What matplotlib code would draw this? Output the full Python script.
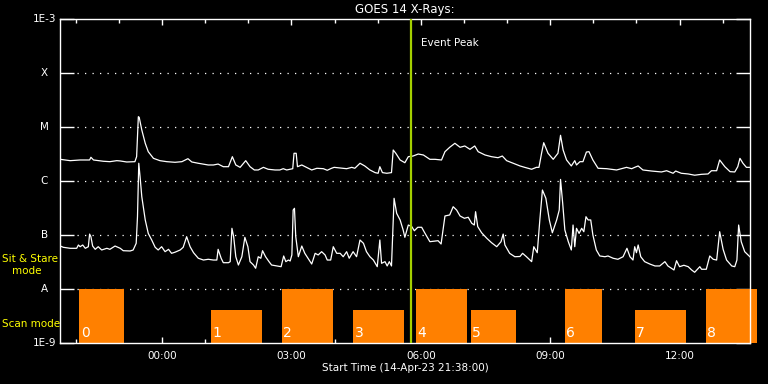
#!/usr/bin/env python3
"""GOES 14 X-ray flux with IRIS observing mode blocks."""

import matplotlib
matplotlib.use("Agg")
import matplotlib.pyplot as plt
from matplotlib.ticker import FixedLocator, NullLocator

# times are hours relative to 00:00 on 15-Apr-23 (start 21:38 the day before)
t_start = -2.3667
t_end = 13.6333
event_peak = 5.77

long_t = [-2.36, -2.13, -1.90, -1.68, -1.65, -1.59, -1.36, -1.21, -1.05, -0.97,
          -0.82, -0.63, -0.59, -0.55, -0.53, -0.47, -0.39, -0.32, -0.20, -0.05,
          0.11, 0.30, 0.46, 0.60, 0.69, 0.84, 1.07, 1.19, 1.30, 1.42,
          1.54, 1.63, 1.71, 1.81, 1.94, 2.04, 2.14, 2.23, 2.35, 2.46,
          2.62, 2.73, 2.81, 2.89, 2.97, 3.03, 3.06, 3.11, 3.14, 3.24,
          3.35, 3.47, 3.59, 3.74, 3.83, 3.93, 3.99, 4.13, 4.28, 4.40,
          4.47, 4.59, 4.70, 4.82, 4.94, 5.01, 5.05, 5.11, 5.21, 5.32,
          5.36, 5.42, 5.52, 5.63, 5.71, 5.82, 5.94, 6.06, 6.21, 6.33,
          6.48, 6.56, 6.67, 6.79, 6.91, 7.02, 7.14, 7.25, 7.33, 7.49,
          7.64, 7.79, 7.89, 7.99, 8.14, 8.30, 8.41, 8.57, 8.68, 8.74,
          8.80, 8.85, 8.95, 9.07, 9.18, 9.24, 9.30, 9.38, 9.49, 9.57,
          9.61, 9.69, 9.76, 9.84, 9.90, 9.99, 10.11, 10.31, 10.54, 10.77,
          10.89, 10.96, 11.04, 11.15, 11.35, 11.58, 11.70, 11.85, 11.91, 12.04,
          12.20, 12.35, 12.51, 12.66, 12.74, 12.86, 12.93, 13.05, 13.17, 13.28,
          13.35, 13.40, 13.47, 13.55, 13.63]
long_flux = [2.52e-6, 2.38e-6, 2.45e-6, 2.45e-6, 2.75e-6, 2.45e-6, 2.32e-6, 2.28e-6, 2.38e-6, 2.35e-6,
             2.25e-6, 2.28e-6, 2.82e-6, 1.55e-5, 1.51e-5, 8.80e-6, 4.99e-6, 3.49e-6, 2.63e-6, 2.38e-6,
             2.28e-6, 2.22e-6, 2.28e-6, 2.59e-6, 2.25e-6, 2.13e-6, 1.98e-6, 1.98e-6, 2.06e-6, 1.84e-6,
             1.84e-6, 2.82e-6, 1.98e-6, 1.79e-6, 2.38e-6, 1.84e-6, 1.60e-6, 1.60e-6, 1.79e-6, 1.65e-6,
             1.60e-6, 1.60e-6, 1.69e-6, 1.60e-6, 1.65e-6, 1.69e-6, 3.26e-6, 3.26e-6, 1.84e-6, 1.98e-6,
             1.79e-6, 1.60e-6, 1.72e-6, 1.69e-6, 1.58e-6, 1.72e-6, 1.79e-6, 1.74e-6, 1.69e-6, 1.79e-6,
             1.72e-6, 2.13e-6, 1.90e-6, 1.60e-6, 1.43e-6, 1.39e-6, 1.84e-6, 1.43e-6, 1.39e-6, 1.43e-6,
             3.75e-6, 3.26e-6, 2.45e-6, 2.18e-6, 2.82e-6, 2.90e-6, 3.16e-6, 3.03e-6, 2.52e-6, 2.52e-6,
             2.45e-6, 3.49e-6, 4.21e-6, 4.99e-6, 4.21e-6, 4.45e-6, 3.86e-6, 4.45e-6, 3.49e-6, 3.03e-6,
             2.82e-6, 2.70e-6, 2.90e-6, 2.38e-6, 2.13e-6, 1.90e-6, 1.79e-6, 1.65e-6, 1.79e-6, 1.79e-6,
             3.26e-6, 5.12e-6, 3.26e-6, 2.52e-6, 3.26e-6, 7.02e-6, 3.75e-6, 2.45e-6, 1.90e-6, 2.38e-6,
             1.98e-6, 2.28e-6, 2.28e-6, 3.44e-6, 3.49e-6, 2.45e-6, 1.72e-6, 1.69e-6, 1.60e-6, 1.79e-6,
             1.69e-6, 1.79e-6, 1.90e-6, 1.60e-6, 1.53e-6, 1.47e-6, 1.55e-6, 1.39e-6, 1.53e-6, 1.39e-6,
             1.35e-6, 1.28e-6, 1.33e-6, 1.35e-6, 1.55e-6, 1.55e-6, 2.45e-6, 1.84e-6, 1.49e-6, 1.47e-6,
             1.84e-6, 2.63e-6, 2.13e-6, 1.79e-6, 1.79e-6]

short_t = [-2.36, -2.29, -2.13, -1.98, -1.94, -1.90, -1.84, -1.78, -1.71, -1.68,
           -1.65, -1.61, -1.55, -1.48, -1.40, -1.28, -1.21, -1.09, -0.97, -0.90,
           -0.74, -0.67, -0.60, -0.57, -0.54, -0.51, -0.47, -0.39, -0.32, -0.24,
           -0.16, -0.09, -0.01, 0.07, 0.15, 0.22, 0.30, 0.42, 0.49, 0.57,
           0.65, 0.73, 0.84, 0.96, 1.07, 1.19, 1.27, 1.30, 1.37, 1.42,
           1.54, 1.58, 1.62, 1.66, 1.71, 1.77, 1.85, 1.92, 1.99, 2.04,
           2.12, 2.17, 2.23, 2.29, 2.33, 2.40, 2.48, 2.54, 2.66, 2.76,
           2.82, 2.87, 2.93, 2.97, 3.01, 3.04, 3.07, 3.10, 3.16, 3.24,
           3.31, 3.41, 3.47, 3.55, 3.62, 3.70, 3.78, 3.83, 3.91, 3.97,
           4.05, 4.13, 4.20, 4.28, 4.34, 4.43, 4.51, 4.59, 4.67, 4.74,
           4.82, 4.90, 4.99, 5.05, 5.09, 5.17, 5.22, 5.27, 5.32, 5.38,
           5.44, 5.52, 5.59, 5.63, 5.71, 5.79, 5.85, 5.93, 6.02, 6.09,
           6.21, 6.33, 6.40, 6.47, 6.56, 6.67, 6.75, 6.83, 6.91, 7.01,
           7.10, 7.18, 7.24, 7.27, 7.32, 7.41, 7.53, 7.64, 7.76, 7.86,
           7.91, 7.95, 8.06, 8.18, 8.30, 8.36, 8.45, 8.57, 8.62, 8.70,
           8.76, 8.82, 8.90, 8.98, 9.05, 9.15, 9.21, 9.24, 9.29, 9.34,
           9.42, 9.49, 9.53, 9.57, 9.61, 9.67, 9.73, 9.78, 9.83, 9.88,
           9.94, 9.99, 10.07, 10.15, 10.27, 10.34, 10.46, 10.57, 10.69, 10.78,
           10.85, 10.92, 10.96, 11.00, 11.04, 11.10, 11.19, 11.31, 11.43, 11.54,
           11.66, 11.73, 11.87, 11.93, 12.00, 12.10, 12.20, 12.28, 12.35, 12.47,
           12.51, 12.62, 12.70, 12.78, 12.86, 12.93, 13.01, 13.09, 13.21, 13.28,
           13.33, 13.37, 13.43, 13.51, 13.63]
short_flux = [6.25e-8, 5.92e-8, 5.67e-8, 5.67e-8, 6.53e-8, 6.07e-8, 6.53e-8, 5.67e-8, 6.07e-8, 1.04e-7,
              9.31e-8, 6.25e-8, 5.43e-8, 6.07e-8, 5.28e-8, 5.67e-8, 5.43e-8, 6.25e-8, 5.67e-8, 5.12e-8,
              5.06e-8, 5.28e-8, 7.02e-8, 2.18e-7, 2.13e-6, 1.20e-6, 5.12e-7, 1.90e-7, 1.07e-7, 8.08e-8,
              5.92e-8, 5.28e-8, 6.07e-8, 4.91e-8, 5.43e-8, 4.58e-8, 4.80e-8, 5.28e-8, 5.92e-8, 9.31e-8,
              6.07e-8, 4.70e-8, 3.71e-8, 3.44e-8, 3.55e-8, 3.44e-8, 3.44e-8, 5.43e-8, 3.71e-8, 3.07e-8,
              3.07e-8, 3.21e-8, 1.33e-7, 9.31e-8, 3.96e-8, 2.78e-8, 3.96e-8, 9.06e-8, 6.07e-8, 3.21e-8,
              2.78e-8, 2.42e-8, 3.96e-8, 3.71e-8, 5.12e-8, 3.96e-8, 3.21e-8, 2.78e-8, 2.67e-8, 2.59e-8,
              4.09e-8, 3.21e-8, 3.44e-8, 3.30e-8, 4.27e-8, 2.90e-7, 3.12e-7, 9.31e-8, 3.96e-8, 6.25e-8,
              4.58e-8, 3.44e-8, 2.90e-8, 4.58e-8, 4.27e-8, 4.91e-8, 4.27e-8, 3.44e-8, 3.44e-8, 6.07e-8,
              4.58e-8, 4.58e-8, 3.96e-8, 4.91e-8, 3.71e-8, 4.91e-8, 3.96e-8, 8.08e-8, 7.02e-8, 4.91e-8,
              3.96e-8, 3.44e-8, 2.59e-8, 8.08e-8, 2.99e-8, 3.21e-8, 2.67e-8, 3.21e-8, 2.67e-8, 4.78e-7,
              2.52e-7, 1.90e-7, 1.24e-7, 9.06e-8, 1.53e-7, 1.43e-7, 1.20e-7, 1.39e-7, 1.39e-7, 1.10e-7,
              7.52e-8, 7.74e-8, 7.84e-8, 6.81e-8, 2.25e-7, 2.35e-7, 3.34e-7, 2.90e-7, 2.25e-7, 2.04e-7,
              2.13e-7, 1.65e-7, 1.53e-7, 2.70e-7, 1.43e-7, 1.10e-7, 8.69e-8, 7.20e-8, 6.07e-8, 7.52e-8,
              1.04e-7, 6.53e-8, 4.58e-8, 3.96e-8, 4.00e-8, 4.58e-8, 3.96e-8, 3.21e-8, 6.07e-8, 4.70e-8,
              1.90e-7, 6.81e-7, 4.78e-7, 1.90e-7, 1.10e-7, 1.90e-7, 2.90e-7, 1.07e-6, 3.86e-7, 1.24e-7,
              7.52e-8, 5.28e-8, 1.53e-7, 6.07e-8, 1.33e-7, 1.07e-7, 1.33e-7, 1.15e-7, 2.18e-7, 1.90e-7,
              1.90e-7, 1.00e-7, 5.28e-8, 4.09e-8, 3.96e-8, 4.09e-8, 3.71e-8, 3.55e-8, 3.96e-8, 5.67e-8,
              3.96e-8, 3.44e-8, 6.07e-8, 4.70e-8, 6.53e-8, 3.96e-8, 3.21e-8, 2.90e-8, 2.67e-8, 2.67e-8,
              3.21e-8, 2.67e-8, 2.25e-8, 3.34e-8, 2.59e-8, 2.75e-8, 2.59e-8, 2.25e-8, 2.04e-8, 2.59e-8,
              2.32e-8, 2.32e-8, 4.09e-8, 3.55e-8, 3.44e-8, 1.15e-7, 5.43e-8, 3.44e-8, 2.67e-8, 2.59e-8,
              3.44e-8, 1.53e-7, 7.52e-8, 4.91e-8, 3.96e-8]

# IRIS observing blocks
block_start = [-1.92, 1.14, 2.78, 4.43, 5.89, 7.16, 9.34, 10.96, 12.61]
block_end = [-0.88, 2.32, 3.96, 5.61, 7.07, 8.20, 10.20, 12.14, 13.79]
block_mode = ["stare", "scan", "stare", "scan", "stare", "scan", "stare", "scan", "stare"]
mode_top = {"stare": 1e-8, "scan": 4e-9}

decades = [1e-9, 1e-8, 1e-7, 1e-6, 1e-5, 1e-4, 1e-3]
decade_labels = ["1E-9", "A", "B", "C", "M", "X", "1E-3"]
hour_ticks = [0, 3, 6, 9, 12]
hour_labels = ["00:00", "03:00", "06:00", "09:00", "12:00"]
hour_minor = [-2, -1, 1, 2, 4, 5, 7, 8, 10, 11, 13]

ORANGE = "#ff8000"
PEAK = "#a4d000"
YELLOW = "#ffff00"


def main() -> None:
    plt.rcParams["font.family"] = "DejaVu Sans"
    fig = plt.figure(figsize=(7.68, 3.84), dpi=100, facecolor="black")
    ax = fig.add_axes([60 / 768, 1 - 343 / 384, 690 / 768, 324 / 384], facecolor="black")
    ax.set_yscale("log")
    ax.set_xlim(t_start, t_end)
    ax.set_ylim(1e-9, 1e-3)

    # dotted decade lines between the inward ticks
    for level in decades[1:-1]:
        ax.axhline(level, xmin=0.025, xmax=0.975, color="white", lw=0.9,
                   linestyle=(0, (1, 5)), zorder=1)

    for start, end, mode in zip(block_start, block_end, block_mode):
        top = mode_top[mode]
        bar = ax.bar(start, top - 1e-9, width=end - start, bottom=1e-9, align="edge",
                     color=ORANGE, linewidth=0, zorder=2)
        for patch in bar:
            patch.set_clip_on(False)
    for i, start in enumerate(block_start):
        ax.annotate(str(i), xy=(start, 1e-9), xytext=(1, 2), textcoords="offset points",
                    ha="left", va="bottom", color="white", fontsize=10, zorder=5)

    ax.plot(long_t, long_flux, color="white", lw=0.9, zorder=3)
    ax.plot(short_t, short_flux, color="white", lw=0.9, zorder=3)

    ax.axvline(event_peak, color=PEAK, lw=1.6, zorder=4)
    ax.annotate("Event Peak", xy=(event_peak, 3.6e-4), xytext=(7, 0),
                textcoords="offset points", ha="left", va="center",
                color="white", fontsize=7.5)

    for spine in ax.spines.values():
        spine.set_color("white")
        spine.set_linewidth(1.0)

    ax.yaxis.set_major_locator(FixedLocator(decades))
    ax.yaxis.set_minor_locator(NullLocator())
    ax.set_yticklabels([])
    ax.tick_params(axis="y", which="major", direction="in", length=10, width=1.0,
                   color="white", left=True, right=True)
    ytrans = ax.get_yaxis_transform()
    for level, label in zip(decades, decade_labels):
        if label.startswith("1E"):
            ax.text(-0.005, level, label, transform=ytrans, ha="right", va="center",
                    color="white", fontsize=7.5)
        else:
            ax.text(-0.023, level, label, transform=ytrans, ha="center", va="center",
                    color="white", fontsize=7.5)

    ax.set_xticks(hour_ticks)
    ax.set_xticklabels(hour_labels)
    ax.set_xticks(hour_minor, minor=True)
    ax.tick_params(axis="x", which="major", direction="in", length=4.5, width=1.0,
                   color="white", labelcolor="white", labelsize=7.5, top=True, bottom=True, pad=6)
    ax.tick_params(axis="x", which="minor", direction="in", length=2.7, width=1.0,
                   color="white", top=True, bottom=True)

    fig.text(405 / 768, 1 - 9.5 / 384, "GOES 14 X-Rays:", ha="center", va="center",
             color="white", fontsize=8.5)
    fig.text(405 / 768, 1 - 368 / 384, "Start Time (14-Apr-23 21:38:00)", ha="center",
             va="center", color="white", fontsize=7.5)

    fig.text(2 / 768, 1 - 259 / 384, "Sit & Stare", ha="left", va="center",
             color=YELLOW, fontsize=7.5)
    fig.text(12 / 768, 1 - 271 / 384, "mode", ha="left", va="center",
             color=YELLOW, fontsize=7.5)
    fig.text(2 / 768, 1 - 324 / 384, "Scan mode", ha="left", va="center",
             color=YELLOW, fontsize=7.5)

    fig.savefig("out.png", dpi=100, facecolor="black")
    plt.close(fig)


if __name__ == "__main__":
    main()
